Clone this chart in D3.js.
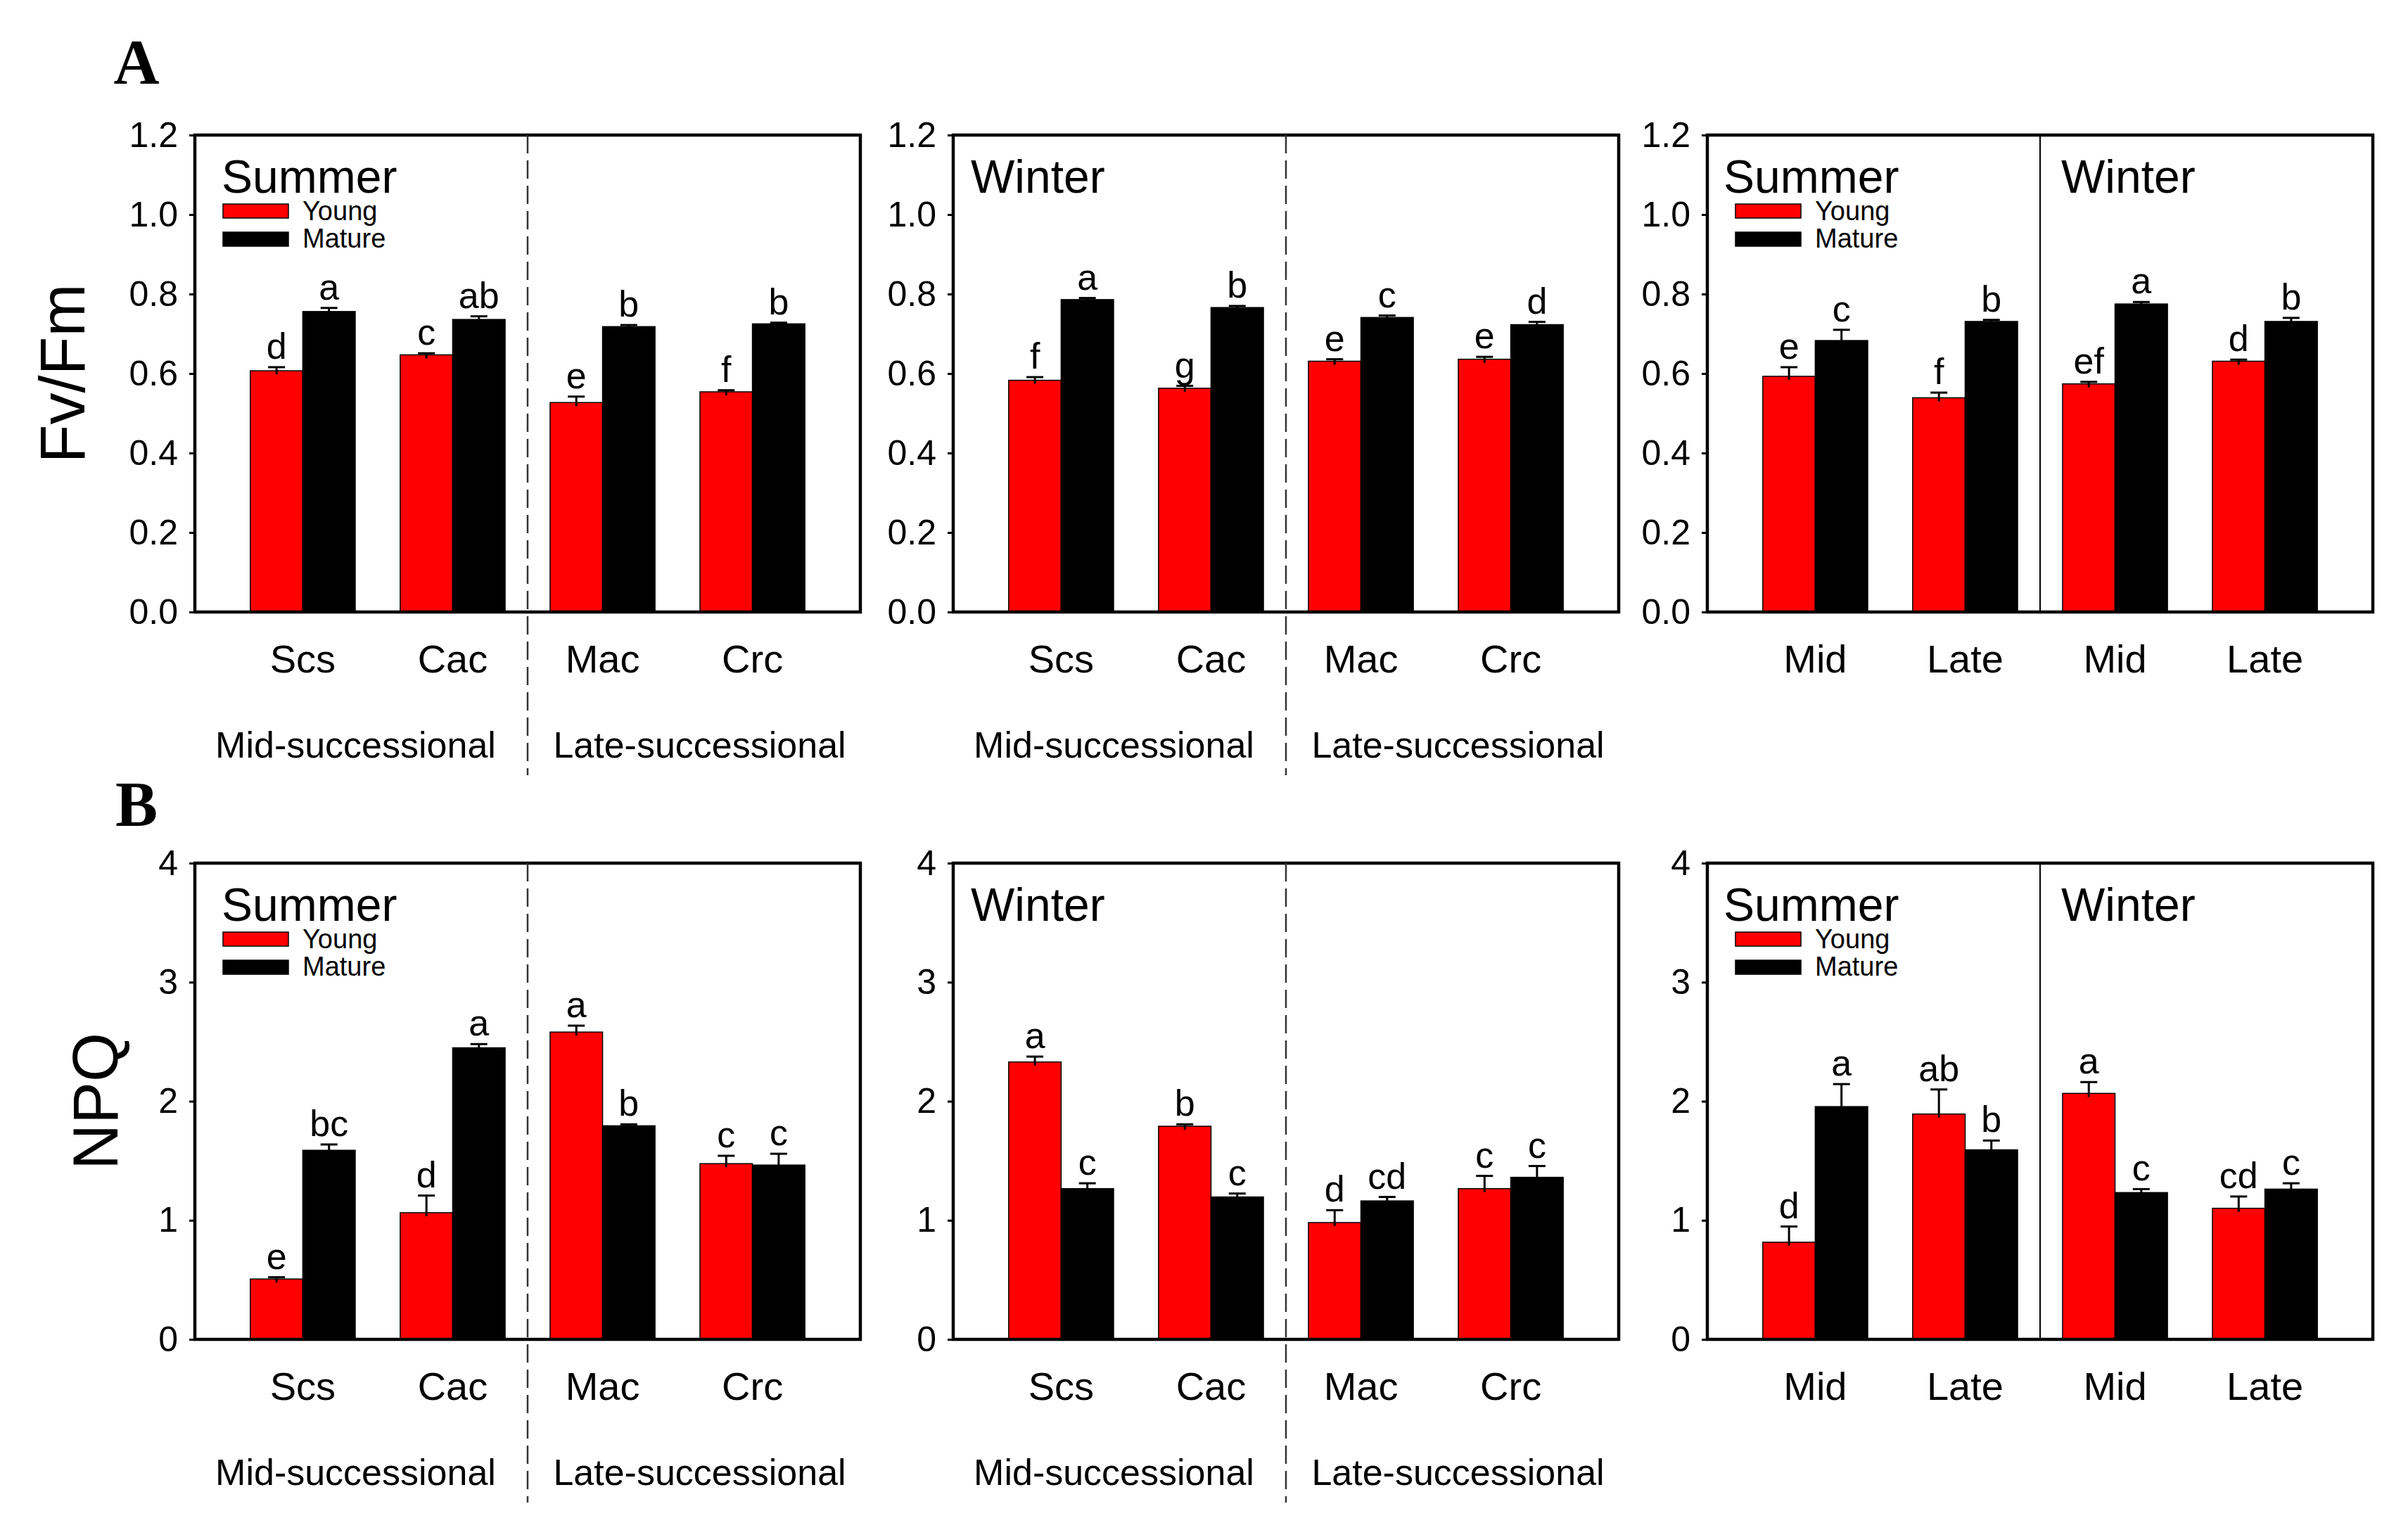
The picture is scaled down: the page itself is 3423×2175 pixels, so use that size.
<!DOCTYPE html>
<html>
<head>
<meta charset="utf-8">
<title>Fv/Fm and NPQ</title>
<script src="https://d3js.org/d3.v7.min.js"></script>
<style>
  body { margin: 0; background: #fff; }
  text { font-family: "Liberation Sans", Arial, sans-serif; fill: #000; }
  .panel-letter { font-family: "Liberation Serif", "Times New Roman", serif; font-weight: bold; }
</style>
</head>
<body>
<svg width="3423" height="2175"></svg>
<script>
// categories
var speciesCats = ["Scs", "Cac", "Mac", "Crc"];
var stageCats = ["Mid", "Late", "Mid", "Late"];
var groupNames = ["Mid-successional", "Late-successional"];
var seriesNames = ["Young", "Mature"];
var seriesColors = ["#ff0000", "#000000"];
var fvTicks = [0, 0.2, 0.4, 0.6, 0.8, 1.0, 1.2];
var npqTicks = [0, 1, 2, 3, 4];

// Fv/Fm, summer by species
var fvSumYoung = [0.607, 0.647, 0.527, 0.554];
var fvSumYoungErr = [0.009, 0.004, 0.015, 0.004];
var fvSumMature = [0.756, 0.736, 0.718, 0.725];
var fvSumMatureErr = [0.009, 0.008, 0.004, 0.003];
var fvSumYoungLet = ["d", "c", "e", "f"];
var fvSumMatureLet = ["a", "ab", "b", "b"];

// Fv/Fm, winter by species
var fvWinYoung = [0.583, 0.563, 0.631, 0.636];
var fvWinYoungErr = [0.008, 0.006, 0.005, 0.006];
var fvWinMature = [0.786, 0.766, 0.741, 0.723];
var fvWinMatureErr = [0.004, 0.004, 0.005, 0.007];
var fvWinYoungLet = ["f", "g", "e", "e"];
var fvWinMatureLet = ["a", "b", "c", "d"];

// Fv/Fm, by stage (summer Mid, Late, winter Mid, Late)
var fvStageYoung = [0.593, 0.539, 0.574, 0.631];
var fvStageYoungErr = [0.023, 0.013, 0.005, 0.004];
var fvStageMature = [0.683, 0.731, 0.775, 0.731];
var fvStageMatureErr = [0.027, 0.004, 0.005, 0.009];
var fvStageYoungLet = ["e", "f", "ef", "d"];
var fvStageMatureLet = ["c", "b", "a", "b"];

// NPQ, summer by species
var npqSumYoung = [0.507, 1.064, 2.581, 1.476];
var npqSumYoungErr = [0.015, 0.144, 0.054, 0.066];
var npqSumMature = [1.588, 2.449, 1.794, 1.464];
var npqSumMatureErr = [0.049, 0.031, 0.012, 0.095];
var npqSumYoungLet = ["e", "d", "a", "c"];
var npqSumMatureLet = ["bc", "a", "b", "c"];

// NPQ, winter by species
var npqWinYoung = [2.33, 1.79, 0.981, 1.266];
var npqWinYoungErr = [0.045, 0.016, 0.104, 0.107];
var npqWinMature = [1.266, 1.196, 1.163, 1.361];
var npqWinMatureErr = [0.045, 0.029, 0.033, 0.095];
var npqWinYoungLet = ["a", "b", "d", "c"];
var npqWinMatureLet = ["c", "c", "cd", "c"];

// NPQ, by stage
var npqStageYoung = [0.816, 1.893, 2.066, 1.101];
var npqStageYoungErr = [0.132, 0.206, 0.095, 0.099];
var npqStageMature = [1.955, 1.592, 1.233, 1.262];
var npqStageMatureErr = [0.189, 0.078, 0.029, 0.049];
var npqStageYoungLet = ["d", "ab", "a", "cd"];
var npqStageMatureLet = ["a", "b", "c", "c"];

var svg = d3.select("svg");

var colX = [277, 1355, 2427];
var plotW = 946;
var rows = [
    { top: 192, bottom: 870, domain: [0, 1.2], ticks: fvTicks, fmt: d3.format(".1f"),
      title: "Fv/Fm", titleX: 120, letter: "A", letterY: 119 },
    { top: 1227, bottom: 1904, domain: [0, 4], ticks: npqTicks, fmt: d3.format("d"),
      title: "NPQ", titleX: 167, letter: "B", letterY: 1174 }
];

function makePanel(rowIdx, colIdx, cats, young, youngErr, mature, matureErr, youngLet, matureLet, kind) {
    var r = rows[rowIdx];
    var x0 = colX[colIdx];
    var g = svg.append("g").attr("transform", "translate(" + x0 + "," + r.top + ")");
    var h = r.bottom - r.top;

    var y = d3.scaleLinear().domain(r.domain).range([h, 0]);
    var x = d3.scaleBand().domain(d3.range(cats.length)).range([0, plotW])
        .paddingInner(0.3).paddingOuter(0.37);
    var xs = d3.scaleBand().domain(seriesNames).range([0, x.bandwidth()]);

    var rowsData = [];
    cats.forEach(function (c, i) {
        rowsData.push({ i: i, s: "Young", v: young[i], e: youngErr[i], l: youngLet[i], col: seriesColors[0] });
        rowsData.push({ i: i, s: "Mature", v: mature[i], e: matureErr[i], l: matureLet[i], col: seriesColors[1] });
    });

    // bars
    g.selectAll(".bar").data(rowsData).enter().append("rect")
        .attr("class", "bar")
        .attr("x", function (d) { return x(d.i) + xs(d.s); })
        .attr("y", function (d) { return y(d.v); })
        .attr("width", xs.bandwidth())
        .attr("height", function (d) { return h - y(d.v); })
        .attr("fill", function (d) { return d.col; })
        .attr("stroke", "#000").attr("stroke-width", 1.5);

    // error bars
    var eb = g.selectAll(".err").data(rowsData).enter().append("g").attr("class", "err");
    eb.append("line")
        .attr("x1", function (d) { return x(d.i) + xs(d.s) + xs.bandwidth() / 2; })
        .attr("x2", function (d) { return x(d.i) + xs(d.s) + xs.bandwidth() / 2; })
        .attr("y1", function (d) { return y(d.v + d.e); })
        .attr("y2", function (d) { return y(d.v) + 5; })
        .attr("stroke", "#000").attr("stroke-width", 3);
    eb.append("line")
        .attr("x1", function (d) { return x(d.i) + xs(d.s) + xs.bandwidth() / 2 - 12; })
        .attr("x2", function (d) { return x(d.i) + xs(d.s) + xs.bandwidth() / 2 + 12; })
        .attr("y1", function (d) { return y(d.v + d.e); })
        .attr("y2", function (d) { return y(d.v + d.e); })
        .attr("stroke", "#000").attr("stroke-width", 3);

    // significance letters
    g.selectAll(".sig").data(rowsData).enter().append("text")
        .attr("class", "sig")
        .attr("x", function (d) { return x(d.i) + xs(d.s) + xs.bandwidth() / 2; })
        .attr("y", function (d) { return y(d.v + d.e) - 12; })
        .attr("text-anchor", "middle")
        .attr("font-size", 52)
        .text(function (d) { return d.l; });

    // y axis
    var yAxis = d3.axisLeft(y).tickValues(r.ticks).tickFormat(r.fmt).tickSize(8).tickPadding(16);
    var ya = g.append("g").call(yAxis);
    ya.select(".domain").remove();
    ya.selectAll("line").attr("stroke", "#000").attr("stroke-width", 3);
    ya.selectAll("text").attr("font-size", 50).attr("font-family", "Liberation Sans, Arial, sans-serif").attr("fill", "#000");

    // frame
    g.append("rect").attr("x", 0).attr("y", 0).attr("width", plotW).attr("height", h)
        .attr("fill", "none").attr("stroke", "#000").attr("stroke-width", 4.5);

    // category labels
    g.selectAll(".cat").data(cats).enter().append("text")
        .attr("x", function (d, i) { return x(i) + x.bandwidth() / 2; })
        .attr("y", h + 86)
        .attr("text-anchor", "middle")
        .attr("font-size", 56)
        .text(function (d) { return d; });

    var mid = (x(1) + x.bandwidth() + x(2)) / 2;

    if (kind === "species") {
        g.append("line").attr("x1", mid).attr("x2", mid).attr("y1", 0).attr("y2", h + 232)
            .attr("stroke", "#333").attr("stroke-width", 2.5).attr("stroke-dasharray", "26,10");
        g.selectAll(".grp").data(groupNames).enter().append("text")
            .attr("x", function (d, i) { return i === 0 ? mid / 2 - 8 : (mid + plotW) / 2 + 8; })
            .attr("y", h + 207)
            .attr("text-anchor", "middle")
            .attr("font-size", 52)
            .text(function (d) { return d; });
    } else {
        g.append("line").attr("x1", mid).attr("x2", mid).attr("y1", 0).attr("y2", h)
            .attr("stroke", "#000").attr("stroke-width", 2);
    }
    return { g: g, mid: mid };
}

function seasonTitle(p, name, dx) {
    p.g.append("text").attr("x", dx).attr("y", 82).attr("font-size", 66).text(name);
}

function legend(p) {
    var lg = p.g.append("g").attr("class", "legend");
    seriesNames.forEach(function (s, i) {
        lg.append("rect").attr("x", 40).attr("y", 98 + i * 40).attr("width", 93).attr("height", 20)
            .attr("fill", seriesColors[i]).attr("stroke", "#000").attr("stroke-width", 1.5);
        lg.append("text").attr("x", 153).attr("y", 121 + i * 39).attr("font-size", 38).text(s);
    });
}

var rowSets = [
    [[speciesCats, fvSumYoung, fvSumYoungErr, fvSumMature, fvSumMatureErr, fvSumYoungLet, fvSumMatureLet, "species"],
     [speciesCats, fvWinYoung, fvWinYoungErr, fvWinMature, fvWinMatureErr, fvWinYoungLet, fvWinMatureLet, "species"],
     [stageCats, fvStageYoung, fvStageYoungErr, fvStageMature, fvStageMatureErr, fvStageYoungLet, fvStageMatureLet, "stage"]],
    [[speciesCats, npqSumYoung, npqSumYoungErr, npqSumMature, npqSumMatureErr, npqSumYoungLet, npqSumMatureLet, "species"],
     [speciesCats, npqWinYoung, npqWinYoungErr, npqWinMature, npqWinMatureErr, npqWinYoungLet, npqWinMatureLet, "species"],
     [stageCats, npqStageYoung, npqStageYoungErr, npqStageMature, npqStageMatureErr, npqStageYoungLet, npqStageMatureLet, "stage"]]
];

rowSets.forEach(function (set, ri) {
    var r = rows[ri];
    var p1 = makePanel.apply(null, [ri, 0].concat(set[0]));
    seasonTitle(p1, "Summer", 38);
    legend(p1);
    var p2 = makePanel.apply(null, [ri, 1].concat(set[1]));
    seasonTitle(p2, "Winter", 25);
    var p3 = makePanel.apply(null, [ri, 2].concat(set[2]));
    seasonTitle(p3, "Summer", 23);
    legend(p3);
    seasonTitle(p3, "Winter", p3.mid + 30);

    svg.append("text").attr("transform", "translate(" + r.titleX + "," + ((r.top + r.bottom) / 2) + ") rotate(-90)")
        .attr("text-anchor", "middle").attr("font-size", 90).text(r.title);
    svg.append("text").attr("class", "panel-letter").attr("x", 194).attr("y", r.letterY)
        .attr("text-anchor", "middle").attr("font-size", 90).text(r.letter);
});
</script>
</body>
</html>
